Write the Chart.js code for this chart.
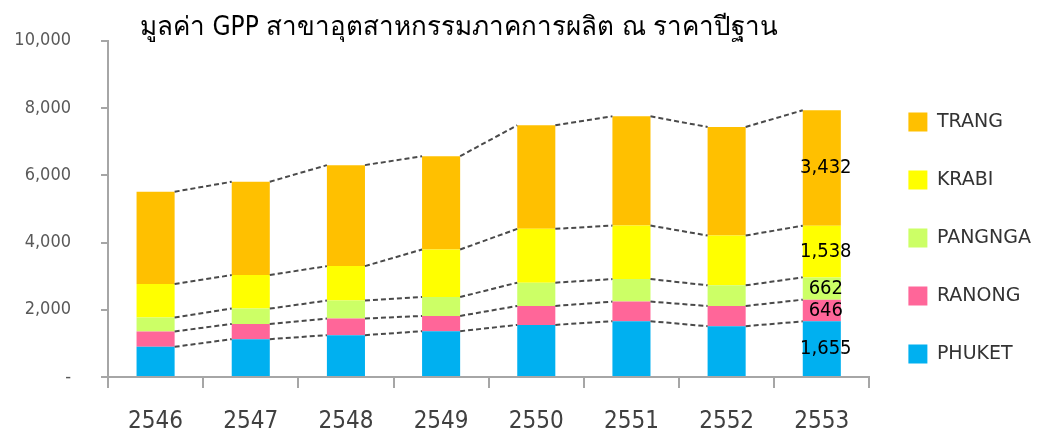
<!DOCTYPE html>
<html>
<head>
<meta charset="utf-8">
<script src="https://cdn.jsdelivr.net/npm/chart.js@4"></script>
<style>
  html, body { margin: 0; padding: 0; background: #fff; }
  #wrap { width: 1044px; height: 436px; }
</style>
</head>
<body>
<div id="wrap"><canvas id="gppChart" width="1044" height="436"></canvas></div>
<script>
// ข้อมูล GPP (ล้านบาท) อ่านจากภาพ
const years = ['2546', '2547', '2548', '2549', '2550', '2551', '2552', '2553'];
const phuket  = [898, 1126, 1244, 1363, 1550, 1659, 1511, 1655];
const ranong  = [456, 453, 495, 453, 563, 584, 602, 646];
const pangnga = [415, 456, 533, 563, 693, 670, 613, 662];
const krabi   = [995, 996, 1026, 1414, 1600, 1591, 1481, 1538];
const trang   = [2747, 2776, 3004, 2776, 3081, 3249, 3230, 3432];
const chartTitle = 'มูลค่า GPP สาขาอุตสาหกรรมภาคการผลิต ณ ราคาปีฐาน';

const FONT = "'DejaVu Sans Condensed', 'DejaVu Sans', 'Noto Sans', sans-serif";
const FONT_WIDE = "'DejaVu Sans', 'Noto Sans', sans-serif";

// ชื่อกราฟ วาดเองเพื่อวางชิดซ้ายของพื้นที่กราฟ
const titlePlugin = {
  id: 'leftTitle',
  afterDraw(chart) {
    const ctx = chart.ctx;
    ctx.save();
    ctx.font = "26px " + FONT;
    ctx.fillStyle = '#000';
    ctx.textAlign = 'left';
    ctx.textBaseline = 'alphabetic';
    ctx.fillText(chartTitle, chart.chartArea.left + 32, 35);
    ctx.restore();
  }
};

// เส้นประเชื่อมยอดของแต่ละชั้น (series lines)
const seriesLines = {
  id: 'seriesLines',
  afterDatasetsDraw(chart) {
    const ctx = chart.ctx;
    ctx.save();
    ctx.strokeStyle = '#4a4a4a';
    ctx.lineWidth = 2;
    ctx.setLineDash([5, 3]);
    chart.data.datasets.forEach((ds, i) => {
      const bars = chart.getDatasetMeta(i).data;
      for (let j = 0; j < bars.length - 1; j++) {
        const a = bars[j], b = bars[j + 1];
        ctx.beginPath();
        ctx.moveTo(a.x + a.width / 2, a.y);
        ctx.lineTo(b.x - b.width / 2, b.y);
        ctx.stroke();
      }
    });
    ctx.restore();
  }
};

// ป้ายค่าบนแท่งสุดท้าย
const lastLabels = {
  id: 'lastLabels',
  afterDatasetsDraw(chart) {
    const ctx = chart.ctx;
    ctx.save();
    ctx.font = "20px " + FONT;
    ctx.fillStyle = '#000';
    ctx.textAlign = 'center';
    ctx.textBaseline = 'middle';
    chart.data.datasets.forEach((ds, i) => {
      const bars = chart.getDatasetMeta(i).data;
      const k = bars.length - 1;
      const bar = bars[k];
      const mid = (bar.y + bar.base) / 2;
      ctx.fillText(ds.data[k].toLocaleString('en-US'), bar.x + 4, mid);
    });
    ctx.restore();
  }
};

const makeSet = (label, data, color) => ({
  label: label,
  data: data,
  backgroundColor: color,
  borderWidth: 0,
  barPercentage: 0.4,
  categoryPercentage: 1.0
});

new Chart(document.getElementById('gppChart'), {
  type: 'bar',
  data: {
    labels: years,
    datasets: [
      makeSet('PHUKET', phuket, '#00B0F0'),
      makeSet('RANONG', ranong, '#FF6699'),
      makeSet('PANGNGA', pangnga, '#CCFF66'),
      makeSet('KRABI', krabi, '#FFFF00'),
      makeSet('TRANG', trang, '#FFC000')
    ]
  },
  options: {
    responsive: false,
    animation: false,
    layout: { padding: { top: 40, right: 3, bottom: 0, left: 0 } },
    plugins: {
      title: { display: false },
      legend: {
        position: 'right',
        reverse: true,
        labels: {
          boxWidth: 19,
          boxHeight: 19,
          padding: 39,
          color: '#333',
          font: { size: 19, family: FONT_WIDE }
        }
      },
      tooltip: { enabled: false }
    },
    scales: {
      x: {
        stacked: true,
        afterFit: (scale) => { scale.height = 59; },
        grid: {
          offset: true,
          drawOnChartArea: false,
          drawTicks: true,
          tickLength: 11,
          color: '#A6A6A6',
          lineWidth: 2
        },
        border: { color: '#A6A6A6', width: 2 },
        ticks: {
          color: '#404040',
          padding: 19,
          font: { size: 24, family: FONT }
        }
      },
      y: {
        stacked: true,
        min: 0,
        max: 10000,
        afterFit: (scale) => { scale.width = 108; },
        grid: {
          drawOnChartArea: false,
          drawTicks: true,
          tickLength: 7,
          color: '#A6A6A6',
          lineWidth: 2
        },
        border: { color: '#A6A6A6', width: 2 },
        ticks: {
          stepSize: 2000,
          color: '#595959',
          padding: 30,
          font: { size: 18, family: FONT },
          callback: (v) => v === 0 ? '-' : v.toLocaleString('en-US')
        }
      }
    }
  },
  plugins: [seriesLines, lastLabels, titlePlugin]
});
</script>
</body>
</html>
